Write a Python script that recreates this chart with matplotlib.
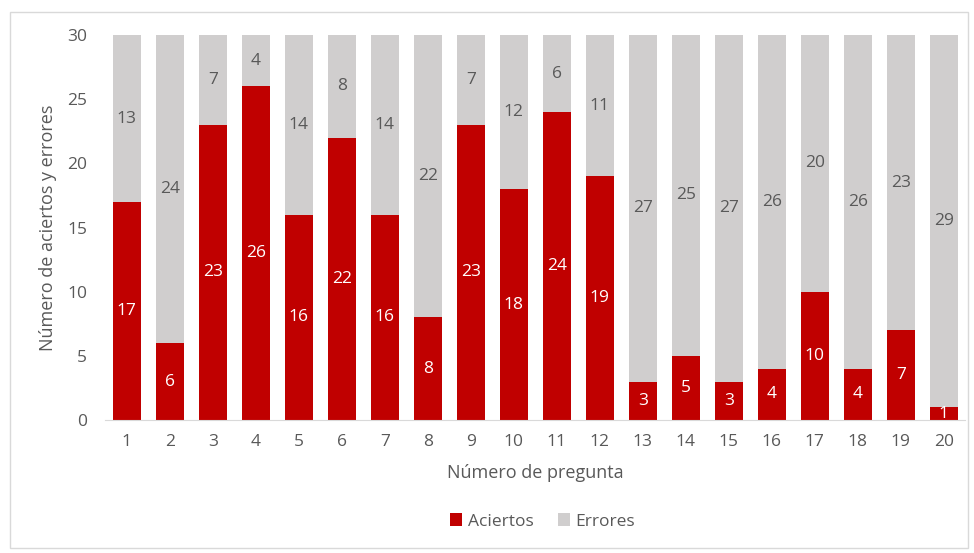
import matplotlib.pyplot as plt
import matplotlib.patches as patches
import numpy as np

plt.rcParams['font.family'] = ['Open Sans', 'DejaVu Sans']

preguntas = [str(i) for i in range(1, 21)]
aciertos = [17, 6, 23, 26, 16, 22, 16, 8, 23, 18, 24, 19, 3, 5, 3, 4, 10, 4, 7, 1]
errores = [13, 24, 7, 4, 14, 8, 14, 22, 7, 12, 6, 11, 27, 25, 27, 26, 20, 26, 23, 29]

rojo = '#C00000'
gris = '#D0CECE'
texto = '#595959'

fig = plt.figure(figsize=(9.74, 5.53), dpi=100)
ax = fig.add_axes([0.108, 0.2405, 0.883, 0.696])

x = np.arange(1, len(preguntas) + 1)
b1 = ax.bar(x, aciertos, width=0.65, color=rojo, label='Aciertos')
b2 = ax.bar(x, errores, width=0.65, bottom=aciertos, color=gris, label='Errores')

ax.bar_label(b1, labels=[str(v) for v in aciertos], label_type='center', color='white', fontsize=12.5)
ax.bar_label(b2, labels=[str(v) for v in errores], label_type='center', color=texto, fontsize=12.5)

ax.set_xlim(0.5, len(preguntas) + 0.5)
ax.set_ylim(0, 30)
ax.set_yticks(range(0, 31, 5))
ax.set_xticks(x)
ax.set_xticklabels(preguntas)
ax.tick_params(length=0, labelsize=12.5, labelcolor=texto)
ax.tick_params(axis='x', pad=10)
ax.tick_params(axis='y', pad=13)

for s in ['top', 'right', 'left']:
    ax.spines[s].set_visible(False)
ax.spines['bottom'].set_color('#D9D9D9')

ax.set_xlabel('Número de pregunta', fontsize=13, color=texto, labelpad=10)
ax.set_ylabel('Número de aciertos y errores', fontsize=13, color=texto, labelpad=7)

fig.legend(handles=[b1, b2], labels=['Aciertos', 'Errores'], loc='center',
           bbox_to_anchor=(0.557, 0.057), ncol=2, frameon=False, fontsize=12.5,
           labelcolor=texto, handlelength=0.7, handleheight=0.7,
           handletextpad=0.3, columnspacing=1.4)

fig.patches.append(patches.Rectangle((10 / 974, 5 / 553), 958 / 974, 536 / 553,
                                     transform=fig.transFigure, fill=False,
                                     edgecolor='#D9D9D9', linewidth=1))

fig.savefig('out.png', dpi=100)
